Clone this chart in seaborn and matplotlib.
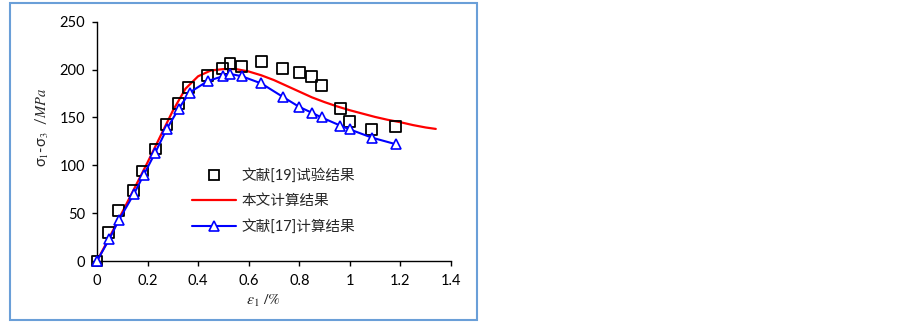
import matplotlib
matplotlib.use("Agg")
import matplotlib.pyplot as plt
import seaborn as sns
import pandas as pd
from matplotlib.lines import Line2D
from matplotlib.patches import Rectangle

# 文献[19]试验结果 (squares)
exp_strain = [0, 0.045, 0.084, 0.144, 0.18, 0.23, 0.276, 0.323, 0.362, 0.438,
              0.497, 0.526, 0.573, 0.65, 0.735, 0.80, 0.849, 0.888, 0.962, 1.0,
              1.086, 1.182]
exp_stress = [0, 30, 53, 73.5, 94, 117, 143, 165, 181, 194,
              201, 206, 203, 208, 201, 196.5, 192.5, 183, 159, 146,
              137, 141]

# 本文计算结果 (red curve)
calc_strain = [0, 0.05, 0.1, 0.15, 0.2, 0.25, 0.3, 0.35, 0.4, 0.45, 0.5, 0.55,
               0.6, 0.65, 0.7, 0.75, 0.8, 0.85, 0.9, 0.95, 1.0, 1.05, 1.1,
               1.15, 1.2, 1.25, 1.3, 1.34]
calc_stress = [0, 25, 51, 77, 103, 130, 157, 180, 193, 199, 200.5, 200.5,
               198, 194, 189, 183, 177, 171, 166, 161.5, 157.5, 154, 150.5,
               147.5, 145, 142, 139.5, 138]

# 文献[17]计算结果 (blue triangles)
ref_strain = [0, 0.049, 0.087, 0.147, 0.185, 0.23, 0.276, 0.323, 0.366, 0.438,
              0.497, 0.526, 0.573, 0.65, 0.735, 0.80, 0.849, 0.888, 0.962, 1.0,
              1.086, 1.182]
ref_stress = [0, 23, 43, 70.5, 90, 113, 138, 159, 176, 188,
              193, 195.5, 193, 185.5, 171.5, 161, 155, 150, 141.5, 137.5,
              129, 122]

labels = ["文献[19]试验结果", "本文计算结果", "文献[17]计算结果"]
x_ticks = [0, 0.2, 0.4, 0.6, 0.8, 1, 1.2, 1.4]
x_tick_labels = ["0", "0.2", "0.4", "0.6", "0.8", "1", "1.2", "1.4"]
y_ticks = [0, 50, 100, 150, 200, 250]

sns.set_style("ticks")
plt.rcParams["font.family"] = ["Lato", "Noto Sans CJK SC", "DejaVu Sans"]
plt.rcParams["mathtext.fontset"] = "stix"

df_exp = pd.DataFrame({"strain": exp_strain, "stress": exp_stress})
df_calc = pd.DataFrame({"strain": calc_strain, "stress": calc_stress})
df_ref = pd.DataFrame({"strain": ref_strain, "stress": ref_stress})

fig = plt.figure(figsize=(9.03, 3.25), dpi=100)
ax = fig.add_axes([0.1074, 0.1969, 0.3920, 0.7363])

sns.lineplot(data=df_calc, x="strain", y="stress", ax=ax, color="#FF0000",
             linewidth=1.6, sort=False, zorder=3)
sns.scatterplot(data=df_exp, x="strain", y="stress", ax=ax, marker="s", s=62,
                facecolors="none", edgecolors="black", linewidths=1.3,
                clip_on=False, zorder=4)
sns.lineplot(data=df_ref, x="strain", y="stress", ax=ax, color="#0000FF",
             linewidth=1.5, marker="^", markersize=7, markerfacecolor="white",
             markeredgecolor="#0000FF", markeredgewidth=1.2, sort=False,
             clip_on=False, zorder=5)

ax.set_xlim(0, 1.4)
ax.set_ylim(0, 250)
ax.set_xticks(x_ticks)
ax.set_xticklabels(x_tick_labels)
ax.set_yticks(y_ticks)
ax.tick_params(axis="both", labelsize=10.5, length=3.5, width=1, color="black",
               labelcolor="black")
ax.tick_params(axis="y", pad=5)
ax.tick_params(axis="x", pad=6)
for side in ["left", "bottom"]:
    ax.spines[side].set_linewidth(1)
    ax.spines[side].set_color("black")
sns.despine(ax=ax)

ax.set_ylabel(r"σ$_{\mathit{1}}$-σ$_{\mathit{3}}$  /$\mathit{MPa}$", fontsize=10.5)
ax.yaxis.set_label_coords(-0.13, 0.56)
ax.set_xlabel(r"$\varepsilon_{\mathit{1}}\ /\mathit{\%}$", fontsize=11.5)
ax.xaxis.set_label_coords(0.47, -0.135)

handles = [
    Line2D([], [], linestyle="none", marker="s", markersize=7.5,
           markerfacecolor="none", markeredgecolor="black", markeredgewidth=1.3),
    Line2D([], [], color="#FF0000", linewidth=1.6),
    Line2D([], [], color="#0000FF", linewidth=1.5, marker="^", markersize=7,
           markerfacecolor="white", markeredgecolor="#0000FF", markeredgewidth=1.2),
]
ax.legend(handles, labels, loc="center left", bbox_to_anchor=(0.268, 0.251),
          frameon=False, fontsize=10.5, handlelength=3.0, handletextpad=0.4,
          labelspacing=0.75, borderpad=0, borderaxespad=0)

fig.patches.append(Rectangle((10, 5), 467, 317, transform=None, fill=False,
                             edgecolor="#6A9FD8", linewidth=1.5))

fig.savefig("out.png", dpi=100)
